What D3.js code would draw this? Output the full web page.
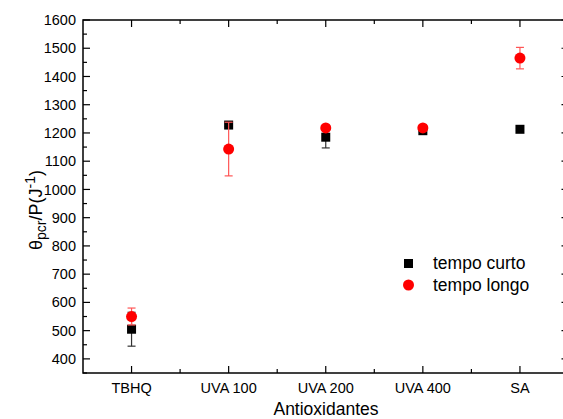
<!DOCTYPE html>
<html>
<head>
    <script src="https://d3js.org/d3.v7.min.js"></script>
    <style>
        body { margin: 0; background: white; }
        text { font-family: "Liberation Sans", Arial, sans-serif; }
    </style>
</head>
<body>
    <svg width="563" height="419"></svg>
    <script>
    // data
    var categories = ["TBHQ", "UVA 100", "UVA 200", "UVA 400", "SA"];
    var curto = [505, 1228, 1185, 1208, 1213];
    var curtoErr = [60, 4, 38, 4, 4];
    var longo = [550, 1143, 1218, 1218, 1465];
    var longoErr = [30, 95, 5, 5, 38];
    var yTicks = [400, 500, 600, 700, 800, 900, 1000, 1100, 1200, 1300, 1400, 1500, 1600];

    var svg = d3.select("svg");
    var pLeft = 83, pRight = 568.5, pTop = 20, pBottom = 373;

    var x = d3.scaleLinear().domain([0.5, categories.length + 0.5]).range([pLeft, pRight]);
    var y = d3.scaleLinear().domain([350, 1600]).range([pBottom, pTop]);

    var g = svg.append("g");

    // frame
    g.append("rect")
        .attr("x", pLeft).attr("y", pTop)
        .attr("width", pRight - pLeft).attr("height", pBottom - pTop)
        .attr("fill", "none").attr("stroke", "black").attr("stroke-width", 1.5);

    // y ticks (left + mirrored on the right), minor every 50
    var yMinor = d3.range(350, 1601, 50).filter(function(v){ return v % 100 != 0; });
    function yTickLines(vals, len) {
        vals.forEach(function(v){
            g.append("line").attr("x1", pLeft).attr("x2", pLeft + len)
                .attr("y1", y(v)).attr("y2", y(v)).attr("stroke", "black").attr("stroke-width", 1.2);
            g.append("line").attr("x1", pRight).attr("x2", pRight - len)
                .attr("y1", y(v)).attr("y2", y(v)).attr("stroke", "black").attr("stroke-width", 1.2);
        });
    }
    yTickLines(yTicks, 7);
    yTickLines(yMinor, 4);

    g.selectAll(".ylab").data(yTicks).join("text")
        .attr("x", pLeft - 7).attr("y", function(d){ return y(d); })
        .attr("dy", "0.35em").attr("text-anchor", "end")
        .attr("font-size", 14.5).text(function(d){ return d; });

    // x ticks (bottom + mirrored on top)
    var xMajor = categories.map(function(c, i){ return i + 1; });
    var xMinor = d3.range(1.5, categories.length + 0.5, 1);
    function xTickLines(vals, len) {
        vals.forEach(function(v){
            g.append("line").attr("x1", x(v)).attr("x2", x(v))
                .attr("y1", pBottom).attr("y2", pBottom - len).attr("stroke", "black").attr("stroke-width", 1.2);
            g.append("line").attr("x1", x(v)).attr("x2", x(v))
                .attr("y1", pTop).attr("y2", pTop + len).attr("stroke", "black").attr("stroke-width", 1.2);
        });
    }
    xTickLines(xMajor, 7);
    xTickLines(xMinor, 4);

    g.selectAll(".xlab").data(categories).join("text")
        .attr("x", function(d, i){ return x(i + 1); }).attr("y", pBottom + 20)
        .attr("text-anchor", "middle").attr("font-size", 14.5).text(function(d){ return d; });

    // axis titles
    svg.append("text").attr("x", 326).attr("y", 415)
        .attr("text-anchor", "middle").attr("font-size", 17.5).text("Antioxidantes");

    var yt = svg.append("text")
        .attr("transform", "translate(42,210) rotate(-90)")
        .attr("text-anchor", "middle").attr("font-size", 18);
    yt.append("tspan").text("θ");
    yt.append("tspan").attr("font-size", 14).attr("dy", 4).text("pcr");
    yt.append("tspan").attr("dy", -4).text("/P(J");
    yt.append("tspan").attr("font-size", 14).attr("dy", -7).text("-1");
    yt.append("tspan").attr("dy", 7).text(")");

    // error bars
    function errorBars(vals, errs, color) {
        vals.forEach(function(v, i){
            var cx = x(i + 1);
            g.append("line").attr("x1", cx).attr("x2", cx)
                .attr("y1", y(v - errs[i])).attr("y2", y(v + errs[i]))
                .attr("stroke", color).attr("stroke-width", 1.2);
            [v - errs[i], v + errs[i]].forEach(function(e){
                g.append("line").attr("x1", cx - 4).attr("x2", cx + 4)
                    .attr("y1", y(e)).attr("y2", y(e))
                    .attr("stroke", color).attr("stroke-width", 1.2);
            });
        });
    }

    errorBars(curto, curtoErr, "#333");
    g.selectAll(".sq").data(curto).join("rect")
        .attr("x", function(d, i){ return x(i + 1) - 4.5; })
        .attr("y", function(d){ return y(d) - 4.5; })
        .attr("width", 9).attr("height", 9).attr("fill", "black");

    errorBars(longo, longoErr, "#f55");
    g.selectAll(".ci").data(longo).join("circle")
        .attr("cx", function(d, i){ return x(i + 1); })
        .attr("cy", function(d){ return y(d); })
        .attr("r", 5.5).attr("fill", "red");

    // legend
    svg.append("rect").attr("x", 404).attr("y", 259).attr("width", 9).attr("height", 9).attr("fill", "black");
    svg.append("text").attr("x", 433).attr("y", 269).attr("font-size", 17.5).text("tempo curto");
    svg.append("circle").attr("cx", 408.5).attr("cy", 285).attr("r", 5.5).attr("fill", "red");
    svg.append("text").attr("x", 433).attr("y", 291).attr("font-size", 17.5).text("tempo longo");
    </script>
</body>
</html>
